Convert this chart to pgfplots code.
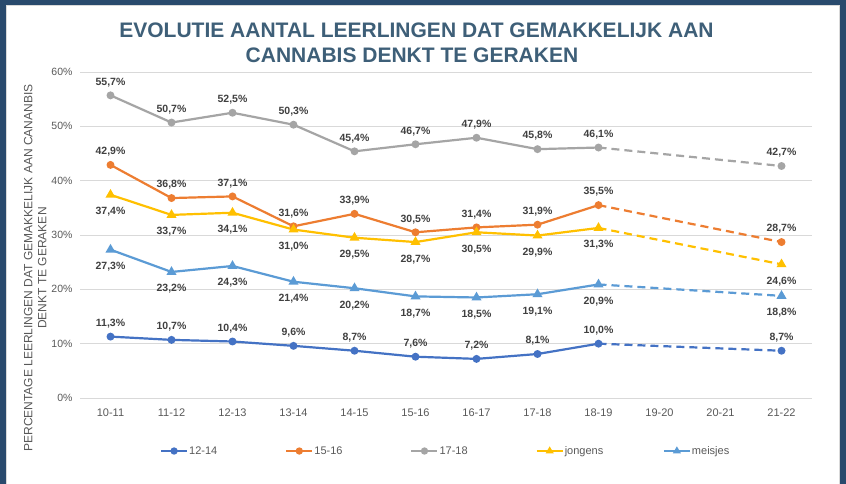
\documentclass[border=0pt]{standalone}
\usepackage{fontspec}
\setmainfont{Liberation Sans}
\usepackage{pgfplots}
\pgfplotsset{compat=1.18}
\definecolor{navy}{HTML}{294A6D}
\definecolor{titlec}{HTML}{3E5F78}
\definecolor{gridc}{HTML}{D9D9D9}
\definecolor{tickc}{HTML}{595959}
\definecolor{labc}{HTML}{404040}
\definecolor{cA}{HTML}{4472C4}
\definecolor{cB}{HTML}{ED7D31}
\definecolor{cC}{HTML}{A5A5A5}
\definecolor{cD}{HTML}{FFC000}
\definecolor{cE}{HTML}{5B9BD5}
\pgfplotsset{
  lab/.style={nodes near coords={\pgfmathprintnumber[fixed,fixed zerofill,precision=1,use comma,assume math mode=true]{\pgfplotspointmeta}\%},
    every node near coord/.append style={font=\fontsize{10.5bp}{12bp}\selectfont\bfseries, text=labc, inner sep=3.5bp}},
  labA/.style={lab, nodes near coords align={above}, every node near coord/.append style={yshift=4bp}},
  labB/.style={lab, nodes near coords align={below}, every node near coord/.append style={yshift=-8bp}},
  serC/.style={color=#1, line width=2.2bp, mark=*, mark size=2.8bp, mark options={solid}},
  serT/.style={color=#1, line width=2.2bp, mark=triangle*, mark size=3.6bp, mark options={solid}},
  dsh/.style={color=#1, line width=2.2bp, dash pattern=on 8bp off 5bp, no markers, forget plot},
}
\begin{document}
\begin{tikzpicture}[x=1bp,y=1bp]
\path[use as bounding box] (0,0) rectangle (846,-484);
\fill[navy] (0,0) rectangle (846,-484);
\fill[white] (6,-5.5) rectangle (839.5,-484);
\draw[gridc, line width=0.8bp] (6,-484) -- (6,-5.5) -- (839.5,-5.5) -- (839.5,-484);
\node[anchor=base, font=\fontsize{21bp}{25bp}\selectfont\bfseries, text=titlec, inner sep=0] at (416.5,-37.7) {EVOLUTIE AANTAL LEERLINGEN DAT GEMAKKELIJK AAN};
\node[anchor=base, font=\fontsize{21bp}{25bp}\selectfont\bfseries, text=titlec, inner sep=0] at (412,-62.5) {CANNABIS DENKT TE GERAKEN};
\node[rotate=90, align=center, inner sep=0, text=tickc, font=\fontsize{12bp}{14bp}\selectfont] at (35.3,-268) {PERCENTAGE LEERLINGEN DAT GEMAKKELIJK AAN CANANBIS\\DENKT TE GERAKEN};
\begin{axis}[
  at={(80bp,-398bp)}, anchor=south west,
  scale only axis, width=732bp, height=326bp,
  xmin=-0.5, xmax=11.5, ymin=0, ymax=60,
  xtick={0,...,11},
  xticklabels={10-11,11-12,12-13,13-14,14-15,15-16,16-17,17-18,18-19,19-20,20-21,21-22},
  ytick={0,10,...,60},
  yticklabel={\pgfmathprintnumber{\tick}\%},
  /pgf/number format/assume math mode=true,
  axis line style={draw=none},
  major tick length=0pt,
  ymajorgrids, major grid style={color=gridc, line width=0.9bp},
  ticklabel style={text=tickc},
  xticklabel style={font=\fontsize{11bp}{13bp}\selectfont, yshift=-7bp},
  yticklabel style={font=\fontsize{10.5bp}{12bp}\selectfont, xshift=-4bp},
  clip=false,
  legend columns=5,
  legend style={draw=none, fill=none, inner sep=0pt, at={(0.109,-0.1626)}, anchor=west,
    font=\fontsize{11bp}{13bp}\selectfont, text=tickc, nodes={inner sep=1bp},
    /tikz/every even column/.append style={column sep=0bp}},
  legend cell align=left,
  legend image code/.code={\draw[mark repeat=2,mark phase=2,#1, mark size=2.5bp] plot coordinates {(0bp,0bp) (13bp,0bp) (26bp,0bp)};},
]
% solid series
\addplot[serC=cA, labA] coordinates {(0,11.3) (1,10.7) (2,10.4) (3,9.6) (4,8.7) (5,7.6) (6,7.2) (7,8.1) (8,10.0)};
\addlegendentry{\makebox[95bp][l]{12-14}}
\addplot[serC=cB, labA] coordinates {(0,42.9) (1,36.8) (2,37.1) (3,31.6) (4,33.9) (5,30.5) (6,31.4) (7,31.9) (8,35.5)};
\addlegendentry{\makebox[95bp][l]{15-16}}
\addplot[serC=cC, labA] coordinates {(0,55.7) (1,50.7) (2,52.5) (3,50.3) (4,45.4) (5,46.7) (6,47.9) (7,45.8) (8,46.1)};
\addlegendentry{\makebox[95bp][l]{17-18}}
\addplot[serT=cD, labB] coordinates {(0,37.4) (1,33.7) (2,34.1) (3,31.0) (4,29.5) (5,28.7) (6,30.5) (7,29.9) (8,31.3)};
\addlegendentry{\makebox[97bp][l]{jongens}}
\addplot[serT=cE, labB] coordinates {(0,27.3) (1,23.2) (2,24.3) (3,21.4) (4,20.2) (5,18.7) (6,18.5) (7,19.1) (8,20.9)};
\addlegendentry{meisjes}
% dashed projections
\addplot[dsh=cA] coordinates {(8,10.0) (11,8.7)};
\addplot[dsh=cB] coordinates {(8,35.5) (11,28.7)};
\addplot[dsh=cC] coordinates {(8,46.1) (11,42.7)};
\addplot[dsh=cD] coordinates {(8,31.3) (11,24.6)};
\addplot[dsh=cE] coordinates {(8,20.9) (11,18.8)};
% end points
\addplot[serC=cA, only marks, labA, forget plot] coordinates {(11,8.7)};
\addplot[serC=cB, only marks, labA, forget plot] coordinates {(11,28.7)};
\addplot[serC=cC, only marks, labA, forget plot] coordinates {(11,42.7)};
\addplot[serT=cD, only marks, labB, forget plot] coordinates {(11,24.6)};
\addplot[serT=cE, only marks, labB, forget plot] coordinates {(11,18.8)};
\end{axis}
\end{tikzpicture}
\end{document}
